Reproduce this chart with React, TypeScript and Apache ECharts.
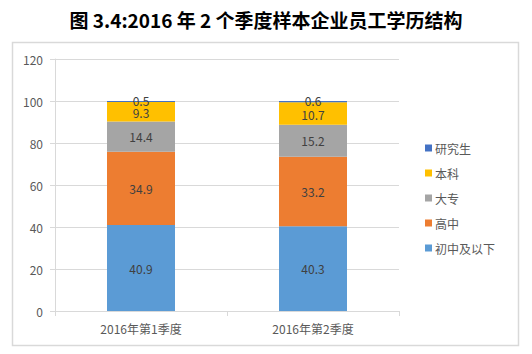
import React, { useEffect, useRef } from "react";
import * as echarts from "echarts";

const categories = ["2016年第1季度", "2016年第2季度"];
const seriesNames = ["初中及以下", "高中", "大专", "本科", "研究生"];
const juniorOrBelow = [40.9, 40.3];
const highSchool = [34.9, 33.2];
const juniorCollege = [14.4, 15.2];
const bachelor = [9.3, 10.7];
const postgraduate = [0.5, 0.6];
const colors = ["#5B9BD5", "#ED7D31", "#A5A5A5", "#FFC000", "#4472C4"];
const legendOrder = ["研究生", "本科", "大专", "高中", "初中及以下"];
const titleText = "图 3.4:2016 年 2 个季度样本企业员工学历结构";

export default function App() {
  const ref = useRef<HTMLDivElement>(null);
  useEffect(() => {
    if (!ref.current) return;
    const chart = echarts.init(ref.current, undefined, { renderer: "svg" });
    const values = [juniorOrBelow, highSchool, juniorCollege, bachelor, postgraduate];
    const font = "'Noto Sans CJK SC', 'Noto Sans', sans-serif";
    chart.setOption({
      animation: false,
      backgroundColor: "#ffffff",
      textStyle: { fontFamily: font },
      title: {
        text: titleText,
        left: "center",
        top: 5,
        textStyle: { fontSize: 19, fontWeight: "bold", color: "#000000", fontFamily: font },
      },
      graphic: [
        {
          type: "rect",
          shape: { x: 12.5, y: 42.5, width: 506, height: 303 },
          style: { fill: "none", stroke: "#d9d9d9", lineWidth: 1.5 },
          silent: true,
          z: -1,
        },
      ],
      legend: {
        orient: "vertical",
        left: 420,
        top: 137,
        itemWidth: 7,
        itemHeight: 7,
        itemGap: 13,
        icon: "rect",
        data: legendOrder,
        textStyle: { fontSize: 12, color: "#595959", fontFamily: font, padding: [0, 0, 0, -2] },
      },
      grid: { left: 55, right: 133, top: 59, bottom: 43 },
      xAxis: {
        type: "category",
        data: categories,
        axisLine: { lineStyle: { color: "#d9d9d9" } },
        axisTick: { show: true, length: 5, lineStyle: { color: "#d9d9d9" } },
        axisLabel: { fontSize: 12, color: "#595959", margin: 11 },
      },
      yAxis: {
        type: "value",
        min: 0,
        max: 120,
        interval: 20,
        axisLine: { show: true, lineStyle: { color: "#d9d9d9" } },
        axisTick: { show: true, length: 5, lineStyle: { color: "#d9d9d9" } },
        axisLabel: { fontSize: 12, color: "#595959", margin: 12 },
        splitLine: { lineStyle: { color: "#d9d9d9" } },
      },
      series: seriesNames.map((name, i) => ({
        name,
        type: "bar",
        stack: "total",
        barWidth: 68,
        data: values[i],
        itemStyle: { color: colors[i] },
        label: {
          show: true,
          position: "inside",
          fontSize: 12,
          lineHeight: 11,
          color: "#404040",
          offset: i === 4 ? [0, -1] : i === 3 ? [0, 1] : [0, 0],
        },
      })),
    });
    return () => chart.dispose();
  }, []);
  return (
    <div
      ref={ref}
      style={{ position: "fixed", left: 0, top: 0, width: 532, height: 354 }}
    />
  );
}
